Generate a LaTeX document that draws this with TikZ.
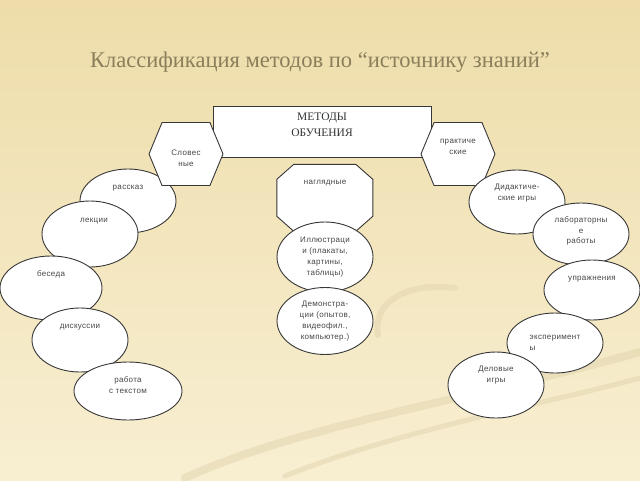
\documentclass[tikz,border=0pt]{standalone}
\usepackage{fontspec}
\setmainfont{Liberation Serif}
\newfontfamily\sansf[LetterSpace=4]{Liberation Sans}
\usetikzlibrary{shapes.geometric,shapes.symbols}
\definecolor{bgtop}{RGB}{238,221,170}
\definecolor{bgbot}{RGB}{248,239,210}
\definecolor{swoosh}{RGB}{222,208,170}
\definecolor{titlec}{RGB}{138,127,90}
\definecolor{edgec}{RGB}{55,55,55}
\definecolor{txtc}{RGB}{70,70,70}
\tikzset{
  box/.style={draw=edgec, fill=white, line width=0.9pt},
  oval/.style={box, ellipse, inner sep=0pt},
  hexa/.style={box, signal, signal to=west and east, signal pointer angle=135,
    minimum width=74pt, minimum height=63pt, inner sep=0pt},
  octframe/.style={minimum width=96pt, minimum height=67pt, inner sep=0pt},
  lbl/.style={font=\sansf\fontsize{8}{10.8}\selectfont, text=txtc, align=center, inner sep=0pt},
  swo/.style={draw=swoosh, line cap=round, opacity=0.45},
}
\begin{document}
\begin{tikzpicture}[x=1pt,y=-1pt]
\useasboundingbox (0,0) rectangle (640,480);
\shade[top color=bgtop, bottom color=bgbot] (0,0) rectangle (640,480);
% background swooshes
\draw[swo, line width=8pt] (185,478) .. controls (300,425) and (470,400) .. (640,352);
\draw[swo, line width=5pt] (285,476) .. controls (400,430) and (540,405) .. (640,378);
\draw[swo, line width=6pt] (378,335) .. controls (372,300) and (410,282) .. (455,288);

% title
\node[font=\fontsize{22.5}{26}\selectfont, text=titlec] (title) at (320,62)
  {Классификация методов по “источнику знаний”};

% central box
\node[box, minimum width=218pt, minimum height=51pt, inner sep=0pt,
  label={[font=\fontsize{11.5}{15.5}\selectfont, text=black!80, align=center, yshift=7pt]center:МЕТОДЫ\\ОБУЧЕНИЯ}]
  (met) at (322,131.5) {};

% left column
\node[oval, minimum width=96pt, minimum height=64pt,
  label={[lbl, yshift=13pt]center:рассказ}] (rass) at (128,201) {};
\node[oval, minimum width=96pt, minimum height=66pt,
  label={[lbl, yshift=13pt, xshift=4pt]center:лекции}] (lek) at (90,234) {};
\node[oval, minimum width=102pt, minimum height=64pt,
  label={[lbl, yshift=14pt]center:беседа}] (bes) at (51,288) {};
\node[oval, minimum width=96pt, minimum height=64pt,
  label={[lbl, yshift=13pt]center:дискуссии}] (disk) at (80,340) {};
\node[oval, minimum width=108pt, minimum height=58pt,
  label={[lbl, yshift=6pt]center:работа\\с текстом}] (rab) at (128,391) {};
\node[hexa, label={[lbl, yshift=-4pt]center:Словес\\ные}] (slov) at (186,154) {};

% middle column
\node[octframe] (nagl) at (325,198) {};
\path[box] (nagl.north west) ++(17,0) -- ++(62,0) -- ++(17,15) -- ++(0,37)
  -- ++(-17,15) -- ++(-62,0) -- ++(-17,-15) -- ++(0,-37) -- cycle;
\node[lbl, yshift=15pt] (nagltxt) at (nagl.center) {наглядные};
\node[oval, minimum width=96pt, minimum height=70pt,
  label={[lbl]center:Иллюстраци\\и (плакаты,\\картины,\\таблицы)}] (ill) at (325,257) {};
\node[oval, minimum width=96pt, minimum height=67pt,
  label={[lbl]center:Демонстра-\\ции (опытов,\\видеофил.,\\компьютер.)}] (dem) at (325,321) {};

% right column
\node[hexa, label={[lbl, yshift=7pt]center:практиче\\ские}] (prak) at (458,154) {};
\node[oval, minimum width=96pt, minimum height=64pt,
  label={[lbl, yshift=9pt]center:Дидактиче-\\ские игры}] (did) at (517,202) {};
\node[oval, minimum width=96pt, minimum height=62pt,
  label={[lbl, yshift=3pt]center:лабораторны\\е\\работы}] (lab) at (581,234) {};
\node[oval, minimum width=96pt, minimum height=60pt,
  label={[lbl, yshift=11pt]center:упражнения}] (upr) at (592,290) {};
\node[oval, minimum width=96pt, minimum height=60pt,
  label={[lbl, align=left]center:эксперимент\\ы}] (eksp) at (555,343) {};
\node[oval, minimum width=96pt, minimum height=66pt,
  label={[lbl, yshift=10pt]center:Деловые\\игры}] (del) at (496,385) {};
\end{tikzpicture}
\end{document}
